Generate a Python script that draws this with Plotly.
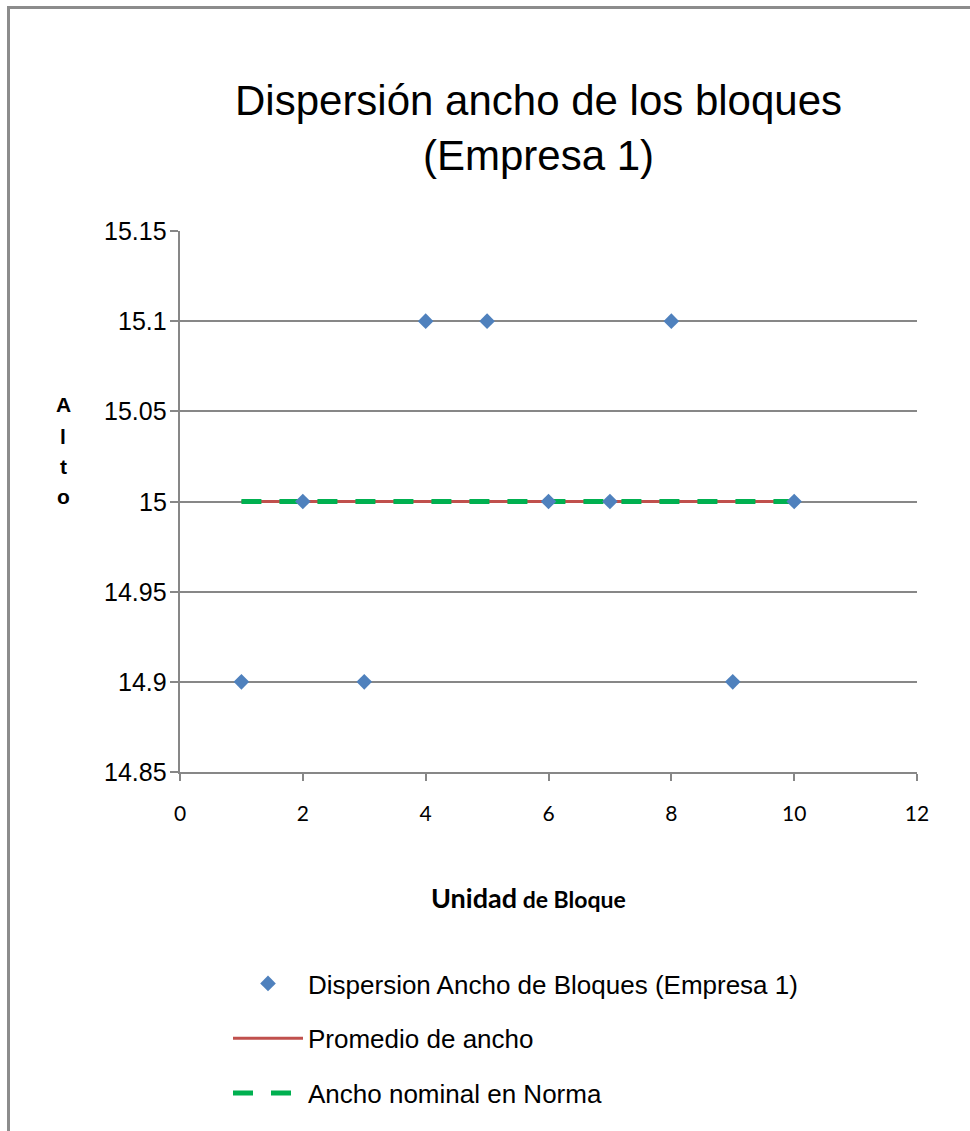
import plotly.graph_objects as go

# Block number and measured width of each block
unidad = [1, 2, 3, 4, 5, 6, 7, 8, 9, 10]
ancho = [14.9, 15.0, 14.9, 15.1, 15.1, 15.0, 15.0, 15.1, 14.9, 15.0]

# Reference lines: mean width and the nominal width from the standard
promedio = sum(ancho) / len(ancho)
nominal = 15.0
linea_promedio = [promedio] * len(unidad)
linea_nominal = [nominal] * len(unidad)

x_ticks = [0, 2, 4, 6, 8, 10, 12]
y_ticks = [14.85, 14.9, 14.95, 15.0, 15.05, 15.1, 15.15]
y_tick_text = ["14.85", "14.9", "14.95", "15", "15.05", "15.1", "15.15"]

W, H = 970, 1131
L, R, T, B = 180, 53, 231, 359
PW, PH = W - L - R, H - T - B


def px_x(p):
    return (p - L) / PW


def px_y(p):
    return (H - B - p) / PH


GRID = "#878787"
ARIAL = "Liberation Sans, Arial, sans-serif"
fig = go.Figure()

fig.add_trace(go.Scatter(
    x=unidad, y=linea_promedio, mode="lines",
    name="Promedio de ancho",
    line=dict(color="#C0504D", width=3),
    legendgroup="b", legendrank=2,
))
fig.add_trace(go.Scatter(
    x=unidad, y=linea_nominal, mode="lines",
    name="Ancho nominal en Norma",
    line=dict(color="#00B050", width=5, dash="20px,18px"),
    legendgroup="c", legendrank=3,
))
fig.add_trace(go.Scatter(
    x=unidad, y=ancho, mode="markers",
    name="Dispersion Ancho de Bloques (Empresa 1)",
    marker=dict(symbol="diamond", size=12, color="#4F81BD"),
    legendgroup="a", legendrank=1,
))

fig.update_layout(
    width=W, height=H,
    margin=dict(l=L, r=R, t=T, b=B, autoexpand=False),
    paper_bgcolor="white", plot_bgcolor="white",
    font=dict(family=ARIAL, color="black"),
    showlegend=True,
    legend=dict(
        x=px_x(228), y=px_y(960), xanchor="left", yanchor="top",
        font=dict(size=26, family=ARIAL),
        tracegroupgap=18, traceorder="grouped",
        itemwidth=70,
        bgcolor="rgba(0,0,0,0)",
    ),
    xaxis=dict(
        range=[0, 12], tickmode="array", tickvals=x_ticks,
        showgrid=False, zeroline=False,
        showline=True, linecolor=GRID, linewidth=2,
        ticks="outside", ticklen=7, tickcolor=GRID, tickwidth=2,
        ticklabelstandoff=15,
        tickfont=dict(family="Lato, sans-serif", size=21),
    ),
    yaxis=dict(
        range=[14.85, 15.15], tickmode="array", tickvals=y_ticks,
        showticklabels=False,
        showgrid=True, gridcolor=GRID, gridwidth=1.5, zeroline=False,
        showline=True, linecolor=GRID, linewidth=2,
        ticks="outside", ticklen=8, tickcolor=GRID, tickwidth=2,
    ),
)

# Y tick labels, right-aligned just left of the tick marks
for val, txt in zip(y_ticks, y_tick_text):
    fig.add_annotation(
        x=px_x(169), y=val, xref="paper", yref="y",
        text=txt, showarrow=False, xanchor="right", yanchor="middle",
        font=dict(size=25, family=ARIAL),
    )

# Chart title
fig.add_annotation(
    x=px_x(538), y=px_y(128), xref="paper", yref="paper",
    text="Dispersión ancho de los bloques<br>(Empresa 1)",
    showarrow=False, xanchor="center", yanchor="middle",
    font=dict(size=42, family=ARIAL),
)

# Vertical y-axis caption, one letter per line
for letra, yy in zip(["A", "l", "t", "o"], [404, 436, 466, 496]):
    fig.add_annotation(
        x=px_x(63), y=px_y(yy), xref="paper", yref="paper",
        text=f"<b>{letra}</b>",
        showarrow=False, xanchor="center", yanchor="middle",
        font=dict(size=21, family=ARIAL),
    )

# X-axis caption
fig.add_annotation(
    x=px_x(528), y=px_y(897), xref="paper", yref="paper",
    text="<b><span style='font-size:27px'>Unidad</span> de Bloque</b>",
    showarrow=False, xanchor="center", yanchor="middle",
    font=dict(size=23, family="Lato, sans-serif"),
)

# Outer chart frame (left and top edges)
fig.add_shape(
    type="path", xref="paper", yref="paper",
    path=f"M {px_x(8.5)},{px_y(H + 5)} L {px_x(8.5)},{px_y(7.5)} L {px_x(W + 5)},{px_y(7.5)}",
    line=dict(color="#8C8C8C", width=3),
)

fig.write_html("out.html")
